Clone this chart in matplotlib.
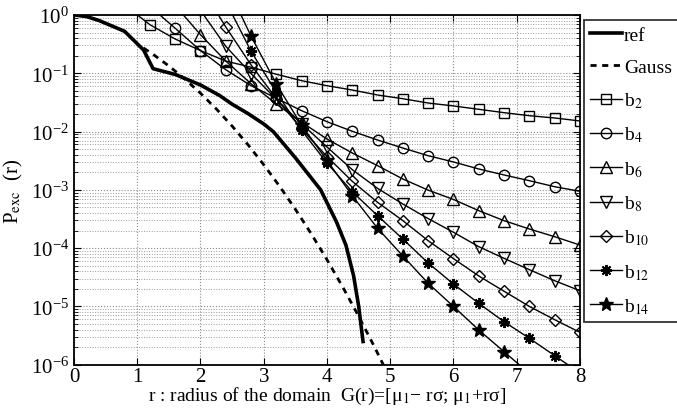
import numpy as np
import matplotlib
matplotlib.use("Agg")
import matplotlib.pyplot as plt
from matplotlib.ticker import LogLocator, NullFormatter, MultipleLocator

plt.rcParams['font.family'] = ['Liberation Serif', 'DejaVu Serif']
plt.rcParams['mathtext.fontset'] = 'stix'

# reference curve
r_ref = [0, 0.2, 0.4, 0.8, 1.1, 1.25, 1.6, 2.0, 2.3, 2.5, 2.75, 3.0, 3.15, 3.5, 3.9, 4.15, 4.3, 4.42, 4.5, 4.57]
p_ref = [1.0, 0.94, 0.80, 0.525, 0.251, 0.12, 0.0955, 0.063, 0.0417, 0.0295, 0.0204, 0.0135, 0.010,
         0.00355, 0.0010, 2.82e-4, 1.12e-4, 3.39e-5, 1.02e-5, 2.5e-6]

# Gauss curve
r_gauss = [1.1, 1.25, 1.5, 1.75, 2.0, 2.25, 2.5, 2.75, 3.0, 3.25, 3.5, 3.75, 4.0, 4.25, 4.5, 4.75, 5.0]
p_gauss = [0.2713, 0.2113, 0.1336, 0.0801, 0.0455, 0.02445, 0.01242, 0.00596, 0.0027, 0.001154,
           4.65e-4, 1.77e-4, 6.33e-5, 2.14e-5, 6.8e-6, 2.03e-6, 5.73e-7]

# b_n curves, sampled every 0.4
r_b2 = [0.8, 1.2, 1.6, 2.0, 2.4, 2.8, 3.2, 3.6, 4.0, 4.4, 4.8, 5.2, 5.6, 6.0, 6.4, 6.8, 7.2, 7.6, 8.0]
p_b2 = [1.48, 0.682, 0.387, 0.245, 0.162, 0.127, 0.0962, 0.0746, 0.0612, 0.0516, 0.0424, 0.0366,
        0.0309, 0.0275, 0.0241, 0.0211, 0.0187, 0.0171, 0.0152]

r_b4 = [1.2, 1.6, 2.0, 2.4, 2.8, 3.2, 3.6, 4.0, 4.4, 4.8, 5.2, 5.6, 6.0, 6.4, 6.8, 7.2, 7.6, 8.0]
p_b4 = [1.41, 0.592, 0.245, 0.115, 0.0612, 0.0372, 0.0228, 0.01476, 0.01012, 0.00716, 0.00522,
        0.00385, 0.00301, 0.00228, 0.0018, 0.001436, 0.001132, 0.000944]

r_b6 = [1.6, 2.0, 2.4, 2.8, 3.2, 3.6, 4.0, 4.4, 4.8, 5.2, 5.6, 6.0, 6.4, 6.8, 7.2, 7.6, 8.0]
p_b6 = [1.45, 0.459, 0.162, 0.0661, 0.0295, 0.01445, 0.00745, 0.00429, 0.0026, 0.001535, 0.000989,
        0.000684, 0.000439, 0.000296, 0.000213, 0.000157, 0.000113]

r_b8 = [2.0, 2.4, 2.8, 3.2, 3.6, 4.0, 4.4, 4.8, 5.2, 5.6, 6.0, 6.4, 6.8, 7.2, 7.6, 8.0]
p_b8 = [1.2, 0.29, 0.0984, 0.0357, 0.01358, 0.00543, 0.00222, 0.00106, 0.000571, 0.000321,
        0.000187, 0.000106, 6.68e-5, 4.27e-5, 2.76e-5, 1.86e-5]

r_b10 = [2.0, 2.4, 2.8, 3.2, 3.6, 4.0, 4.4, 4.8, 5.2, 5.6, 6.0, 6.4, 6.8, 7.2, 7.6, 8.0]
p_b10 = [3.16, 0.622, 0.139, 0.0366, 0.01107, 0.00372, 0.0014, 0.000611, 0.000296, 0.000134,
         6.61e-5, 3.33e-5, 1.82e-5, 1.0e-5, 5.92e-6, 3.59e-6]

r_b12 = [2.4, 2.8, 3.2, 3.6, 4.0, 4.4, 4.8, 5.2, 5.6, 6.0, 6.4, 6.8, 7.2, 7.6, 8.0]
p_b12 = [1.7, 0.238, 0.0468, 0.01047, 0.00288, 0.000929, 0.00036, 0.000143, 5.56e-5, 2.42e-5,
         1.13e-5, 5.46e-6, 2.84e-6, 1.43e-6, 7.2e-7]

r_b14 = [2.4, 2.8, 3.2, 3.6, 4.0, 4.4, 4.8, 5.2, 5.6, 6.0, 6.4, 6.8, 7.2]
p_b14 = [3.55, 0.431, 0.0653, 0.01274, 0.0032, 0.000794, 0.000219, 7.33e-5, 2.49e-5, 1.0e-5,
         3.94e-6, 1.67e-6, 7.1e-7]

fig = plt.figure(figsize=(6.77, 4.10), dpi=100)
ax = fig.add_axes([0.1093, 0.108, 0.7474, 0.853])

ax.semilogy(r_ref, p_ref, 'k-', lw=2.6, label='ref')
ax.semilogy(r_gauss, p_gauss, 'k--', lw=2.0, dashes=(2.2, 2.0), label='Gauss')

mk = dict(color='k', lw=1.0, mfc='none', mec='k', mew=1.0)
ax.semilogy(r_b2, p_b2, marker='s', ms=6.5, label='b$_{2}$', **mk)
ax.semilogy(r_b4, p_b4, marker='o', ms=7.5, label='b$_{4}$', **mk)
ax.semilogy(r_b6, p_b6, marker='^', ms=8, label='b$_{6}$', **mk)
ax.semilogy(r_b8, p_b8, marker='v', ms=8, label='b$_{8}$', **mk)
ax.semilogy(r_b10, p_b10, marker='D', ms=6.5, label='b$_{10}$', **mk)
ax.semilogy(r_b12, p_b12, marker=(8, 2, 0), ms=8, label='b$_{12}$', color='k', lw=1.0, mec='k', mew=1.4)
ax.semilogy(r_b14, p_b14, marker='*', ms=10, label='b$_{14}$', color='k', lw=1.0, mfc='k', mec='k')

ax.set_xlim(0, 8)
ax.set_ylim(1e-6, 1)
ax.xaxis.set_major_locator(MultipleLocator(1))
ax.yaxis.set_major_locator(LogLocator(base=10, numticks=10))
ax.yaxis.set_minor_locator(LogLocator(base=10, subs=np.arange(2, 10), numticks=10))
ax.yaxis.set_minor_formatter(NullFormatter())

ax.grid(True, which='major', linestyle=':', color='0.55', lw=0.8)
ax.grid(True, which='minor', axis='y', linestyle=':', color='0.6', lw=0.7)
ax.set_axisbelow(True)

ax.tick_params(which='both', direction='in', top=True, right=True, labelsize=15)
ax.tick_params(which='major', length=5)
ax.tick_params(which='minor', length=3)
ax.tick_params(axis='x', pad=1.5)
for s in ax.spines.values():
    s.set_linewidth(1.3)

ax.set_xlabel('r : radius of the domain  G(r)=[μ$_1$− rσ; μ$_1$+rσ]', fontsize=14, labelpad=-1)
ax.set_ylabel('P$_{\\mathrm{exc}}$  (r)', fontsize=15, labelpad=4)

leg = ax.legend(loc='upper left', bbox_to_anchor=(1.008, 0.985), fontsize=14, frameon=True,
                fancybox=False, edgecolor='k', handlelength=1.65, handletextpad=0.1,
                labelspacing=0.75, borderpad=0.3, borderaxespad=0)
leg.get_frame().set_linewidth(1.3)

fig.savefig('out.png', dpi=100)
